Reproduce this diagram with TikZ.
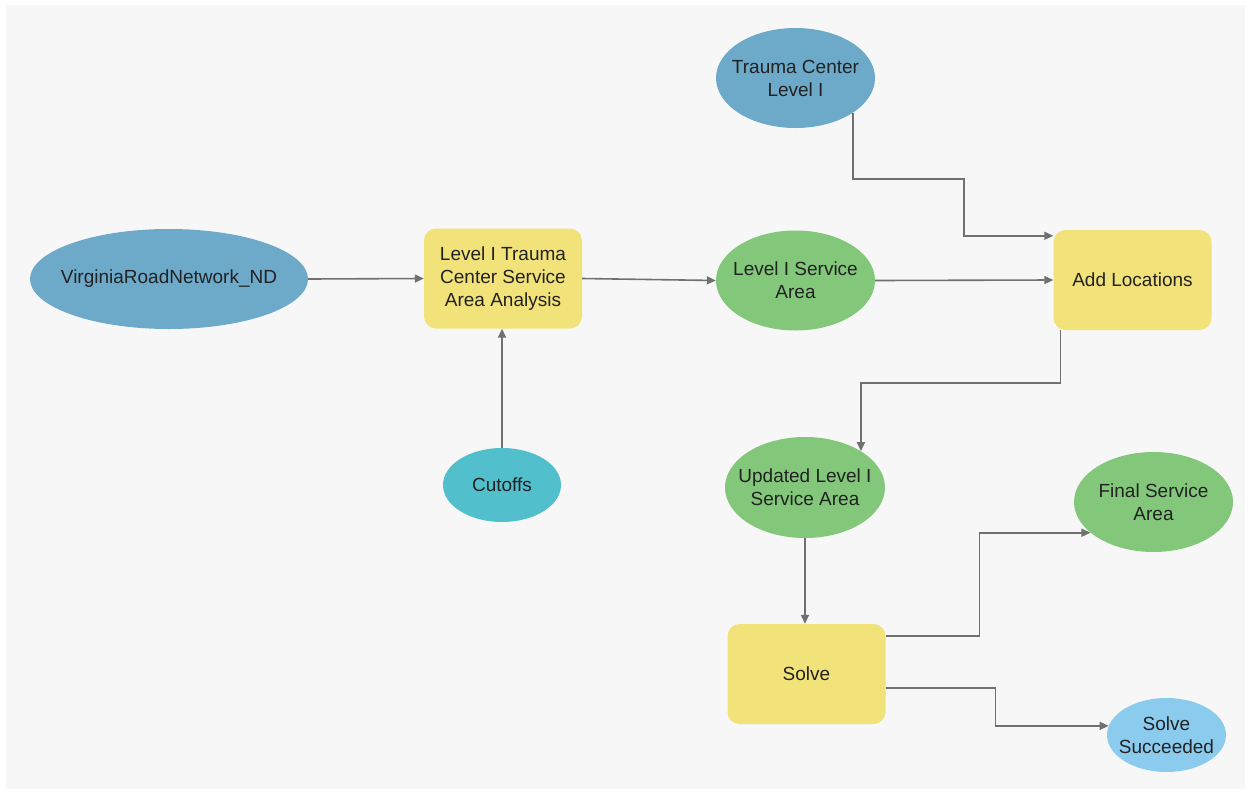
\documentclass[tikz,border=0pt]{standalone}
\usepackage{fontspec}
\setmainfont{Liberation Sans}
\usetikzlibrary{shapes.geometric,arrows.meta}
\definecolor{bgc}{HTML}{F7F7F7}
\definecolor{inblue}{HTML}{6DA9C9}
\definecolor{procy}{HTML}{F2E27A}
\definecolor{outg}{HTML}{82C77A}
\definecolor{cutc}{HTML}{52BFCC}
\definecolor{succc}{HTML}{8BCBEE}
\definecolor{linec}{HTML}{707070}
\definecolor{txtc}{HTML}{222222}
\tikzset{
  base/.style={inner sep=0pt, text=txtc, align=center, font=\fontsize{19}{23}\selectfont},
  ell/.style={base, ellipse, inner xsep=-40pt, inner ysep=-12pt},
  proc/.style={base, rectangle, rounded corners=12pt, fill=procy, minimum width=158pt, minimum height=100pt},
  conn/.style={draw=linec, line width=1.6pt, -{Triangle[length=9pt,width=8pt]}},
}
\begin{document}
\begin{tikzpicture}[x=1pt,y=-1pt]
\useasboundingbox (0,0) rectangle (1251,793);
\fill[white] (0,0) rectangle (1251,793);
\fill[bgc] (6,5) rectangle (1245,789);

\node[ell, fill=inblue, minimum width=278pt, minimum height=100pt] (vrn) at (169,279) {VirginiaRoadNetwork\_ND};
\node[proc] (ana) at (503,278.5) {Level I Trauma\\Center Service\\Area Analysis};
\node[ell, fill=cutc, minimum width=118pt, minimum height=74pt] (cut) at (502,485) {Cutoffs};
\node[ell, fill=outg, minimum width=159pt, minimum height=100pt] (lsa) at (795.5,280.5) {Level I Service\\Area};
\node[ell, fill=inblue, minimum width=159pt, minimum height=100pt] (tc) at (795.5,78) {Trauma Center\\Level I};
\node[proc] (add) at (1132.5,280) {Add Locations};
\node[ell, fill=outg, minimum width=160pt, minimum height=101pt] (upd) at (805,487.5) {Updated Level I\\Service Area};
\node[proc] (solve) at (806.5,674) {Solve};
\node[ell, fill=outg, minimum width=159pt, minimum height=100pt] (fin) at (1153.5,502) {Final Service\\Area};
\node[ell, fill=succc, minimum width=119pt, minimum height=74pt] (succ) at (1166.5,735) {Solve\\Succeeded};

\draw[conn] (vrn.east) -- (ana.west);
\draw[conn] (cut.north) -- (cut.north |- ana.south);
\draw[conn] (ana.east) -- (lsa.west);
\draw[conn] (lsa.east) -- (add.west);
\draw[conn] (tc.-31) |- (964,179) |- ([yshift=-6pt]add.north west);
\draw[conn] ([xshift=7pt]add.south west) -- ++(0,53) -| (upd.33);
\draw[conn] (upd.south) -- (upd.south |- solve.north);
\draw[conn] ([yshift=38pt]solve.east) -| ([xshift=-111pt]fin.206) -- (fin.206);
\draw[conn] ([yshift=-14pt]solve.east) -| ([xshift=-113pt]succ.171) -- (succ.171);
\end{tikzpicture}
\end{document}
